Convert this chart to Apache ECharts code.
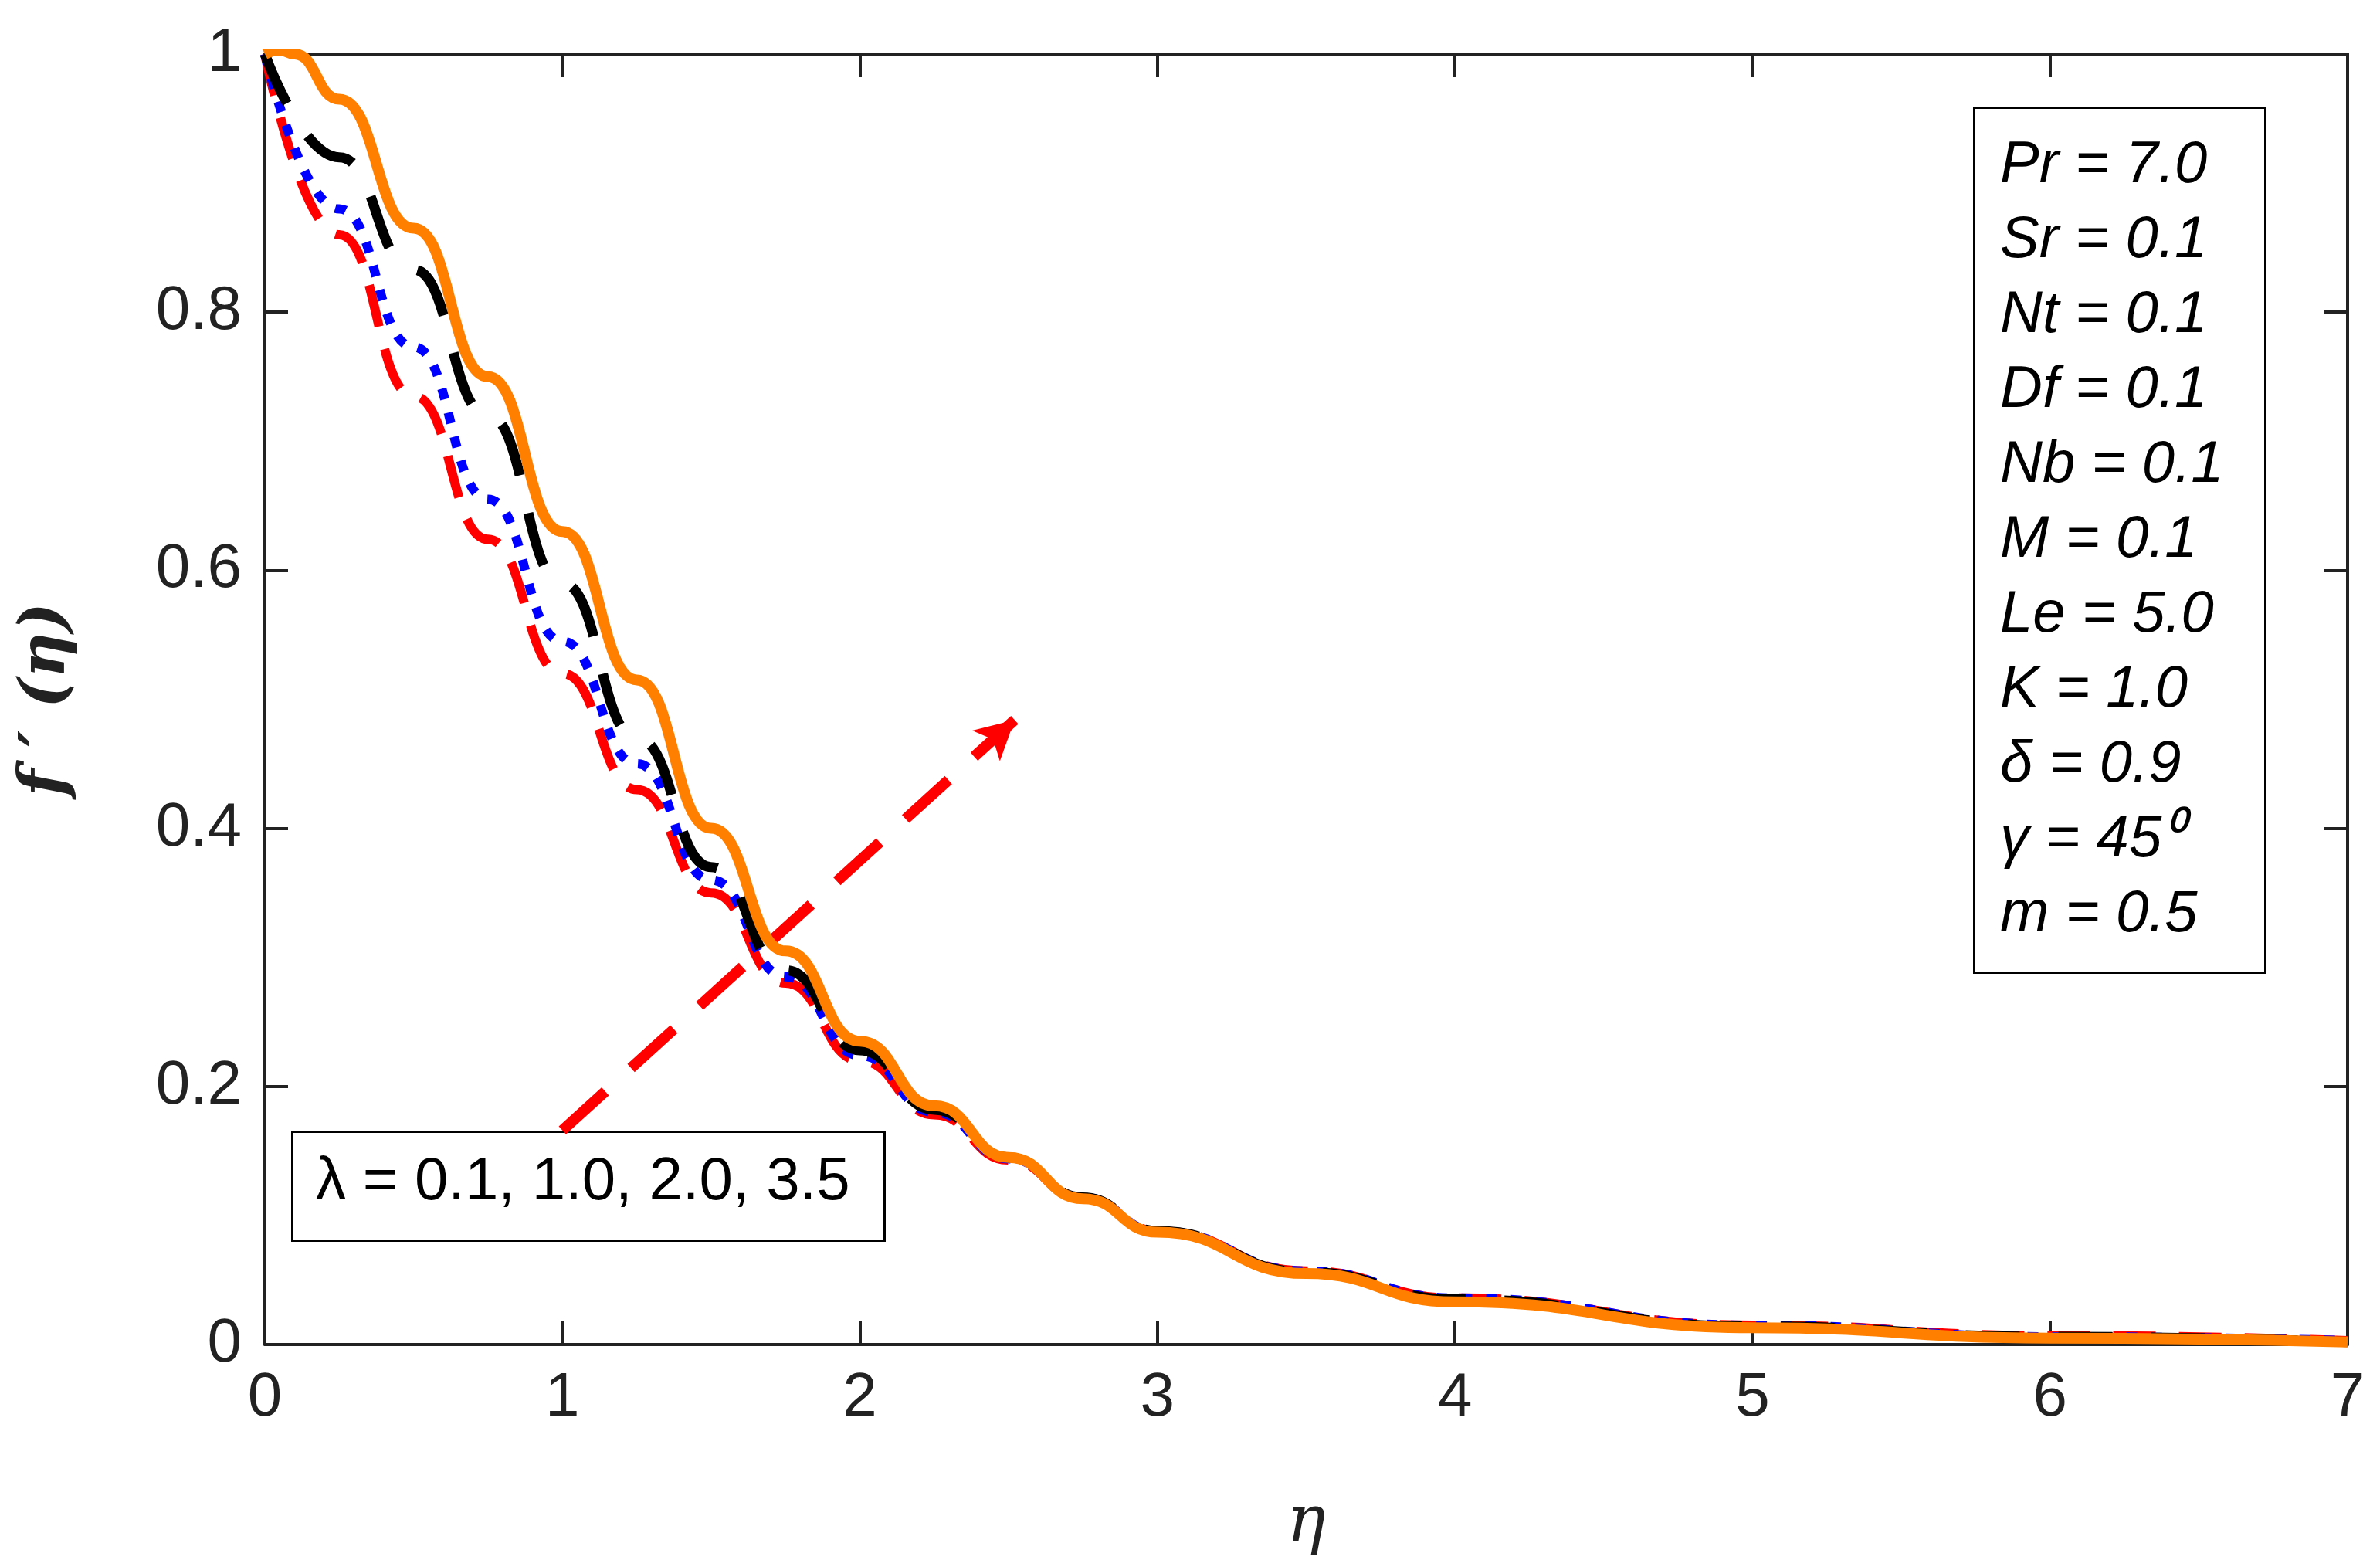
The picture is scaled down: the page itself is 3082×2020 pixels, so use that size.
<!DOCTYPE html>
<html>
<head>
<meta charset="utf-8">
<script src="https://cdn.jsdelivr.net/npm/echarts@6/dist/echarts.min.js"></script>
<style>html,body{margin:0;padding:0;background:#fff}#chart{width:3082px;height:2020px}</style>
</head>
<body>
<div id="chart"></div>
<script>
// eta samples and f'(eta)
const etaA = [0, 0.25, 0.5, 0.75, 1, 1.25, 1.5, 1.75, 2, 2.25, 2.5, 2.75, 3, 3.5, 4, 5, 6, 7]
const red = [1, 0.86, 0.735, 0.624, 0.52, 0.43, 0.35, 0.28, 0.22, 0.178, 0.143, 0.113, 0.088, 0.057, 0.036, 0.015, 0.007, 0.003]
const blue = [1, 0.88, 0.773, 0.655, 0.545, 0.45, 0.36, 0.285, 0.224, 0.18, 0.144, 0.114, 0.088, 0.057, 0.036, 0.015, 0.006, 0.003]
const black = [1, 0.92, 0.833, 0.72, 0.59, 0.47, 0.37, 0.29, 0.228, 0.182, 0.145, 0.114, 0.088, 0.056, 0.035, 0.014, 0.006, 0.002]
const etaB = [0, 0.05, 0.1, 0.25, 0.5, 0.75, 1, 1.25, 1.5, 1.75, 2, 2.25, 2.5, 2.75, 3, 3.5, 4, 5, 6, 7]
const orange = [1, 1.003, 1.0, 0.965, 0.865, 0.75, 0.63, 0.515, 0.4, 0.305, 0.235, 0.185, 0.145, 0.113, 0.087, 0.055, 0.033, 0.013, 0.005, 0.002]
const arrow = [[1.0, 0.166], [2.52, 0.484]]
const params = ['Pr = 7.0', 'Sr = 0.1', 'Nt = 0.1', 'Df = 0.1', 'Nb = 0.1', 'M = 0.1', 'Le = 5.0', 'K = 1.0', 'δ = 0.9', 'γ = 45⁰', 'm = 0.5']
const lambdaText = 'λ = 0.1, 1.0, 2.0, 3.5'

const pair = (xs, ys) => xs.map((x, i) => [x, ys[i]])
const font = 'Liberation Sans'

let axisCommon = {
    type: 'value',
    axisLine: { show: true, onZero: false, lineStyle: { color: '#222', width: 4 } },
    axisTick: { show: true, inside: true, length: 30, lineStyle: { color: '#222', width: 4 } },
    splitLine: { show: false },
}

let option = {
    backgroundColor: '#fff',
    animation: false,
    grid: { left: 343, right: 42, top: 70, bottom: 265 },
    xAxis: [
        Object.assign({}, axisCommon, {
            min: 0, max: 7, interval: 1,
            axisLabel: { fontSize: 80, color: '#222', fontFamily: font, margin: 30 },
            name: 'η', nameLocation: 'middle', nameGap: 190,
            nameTextStyle: { fontSize: 84, fontStyle: 'italic', color: '#222', fontFamily: 'DejaVu Serif' }
        }),
        Object.assign({}, axisCommon, { position: 'top', min: 0, max: 7, interval: 1, axisLabel: { show: false } })
    ],
    yAxis: [
        Object.assign({}, axisCommon, {
            min: 0, max: 1, interval: 0.2,
            axisLabel: { fontSize: 80, color: '#222', fontFamily: font, margin: 30 },
            name: "f ′ (η)", nameLocation: 'middle', nameGap: 240,
            nameTextStyle: { fontSize: 82, fontStyle: 'italic', fontWeight: 'bold', color: '#222', fontFamily: 'DejaVu Serif' }
        }),
        Object.assign({}, axisCommon, { position: 'right', min: 0, max: 1, interval: 0.2, axisLabel: { show: false } })
    ],
    series: [
        {
            type: 'line', data: pair(etaA, red), smooth: true, smoothMonotone: 'x', showSymbol: false,
            lineStyle: { color: '#ff0000', width: 12, type: [55, 30] }
        },
        {
            type: 'line', data: pair(etaA, blue), smooth: true, smoothMonotone: 'x', showSymbol: false,
            lineStyle: { color: '#0000ff', width: 12, type: [14, 18] }
        },
        {
            type: 'line', data: pair(etaA, black), smooth: true, smoothMonotone: 'x', showSymbol: false,
            lineStyle: { color: '#000', width: 13, type: [70, 50] }
        },
        {
            type: 'line', data: pair(etaB, orange), smooth: true, smoothMonotone: 'x', showSymbol: false, z: 5,
            lineStyle: { color: '#ff8000', width: 14 }
        },
        {
            type: 'line', data: [], showSymbol: false,
            markLine: {
                silent: true, symbol: ['none', 'arrow'], symbolSize: [40, 50],
                label: { show: false },
                lineStyle: { color: '#ff0000', width: 14, type: [75, 45] },
                data: [[{ coord: arrow[0] }, { coord: arrow[1] }]]
            }
        }
    ],
    graphic: [
        {
            type: 'rect', left: 2555, top: 138,
            shape: { width: 377, height: 1120 },
            style: { fill: '#fff', stroke: '#000', lineWidth: 3 }
        },
        {
            type: 'text', left: 2590, top: 166,
            style: {
                text: params.join('\n'), fontSize: 76, lineHeight: 97,
                fontStyle: 'italic', fontFamily: font, fill: '#000'
            }
        },
        {
            type: 'rect', left: 377, top: 1464,
            shape: { width: 767, height: 141 },
            style: { fill: '#fff', stroke: '#000', lineWidth: 3 }
        },
        {
            type: 'text', left: 409, top: 1492,
            style: { text: lambdaText, fontSize: 78, fontFamily: font, fill: '#000' }
        }
    ]
}

let myChart = echarts.init(document.getElementById('chart'))
myChart.setOption(option)
</script>
</body>
</html>
